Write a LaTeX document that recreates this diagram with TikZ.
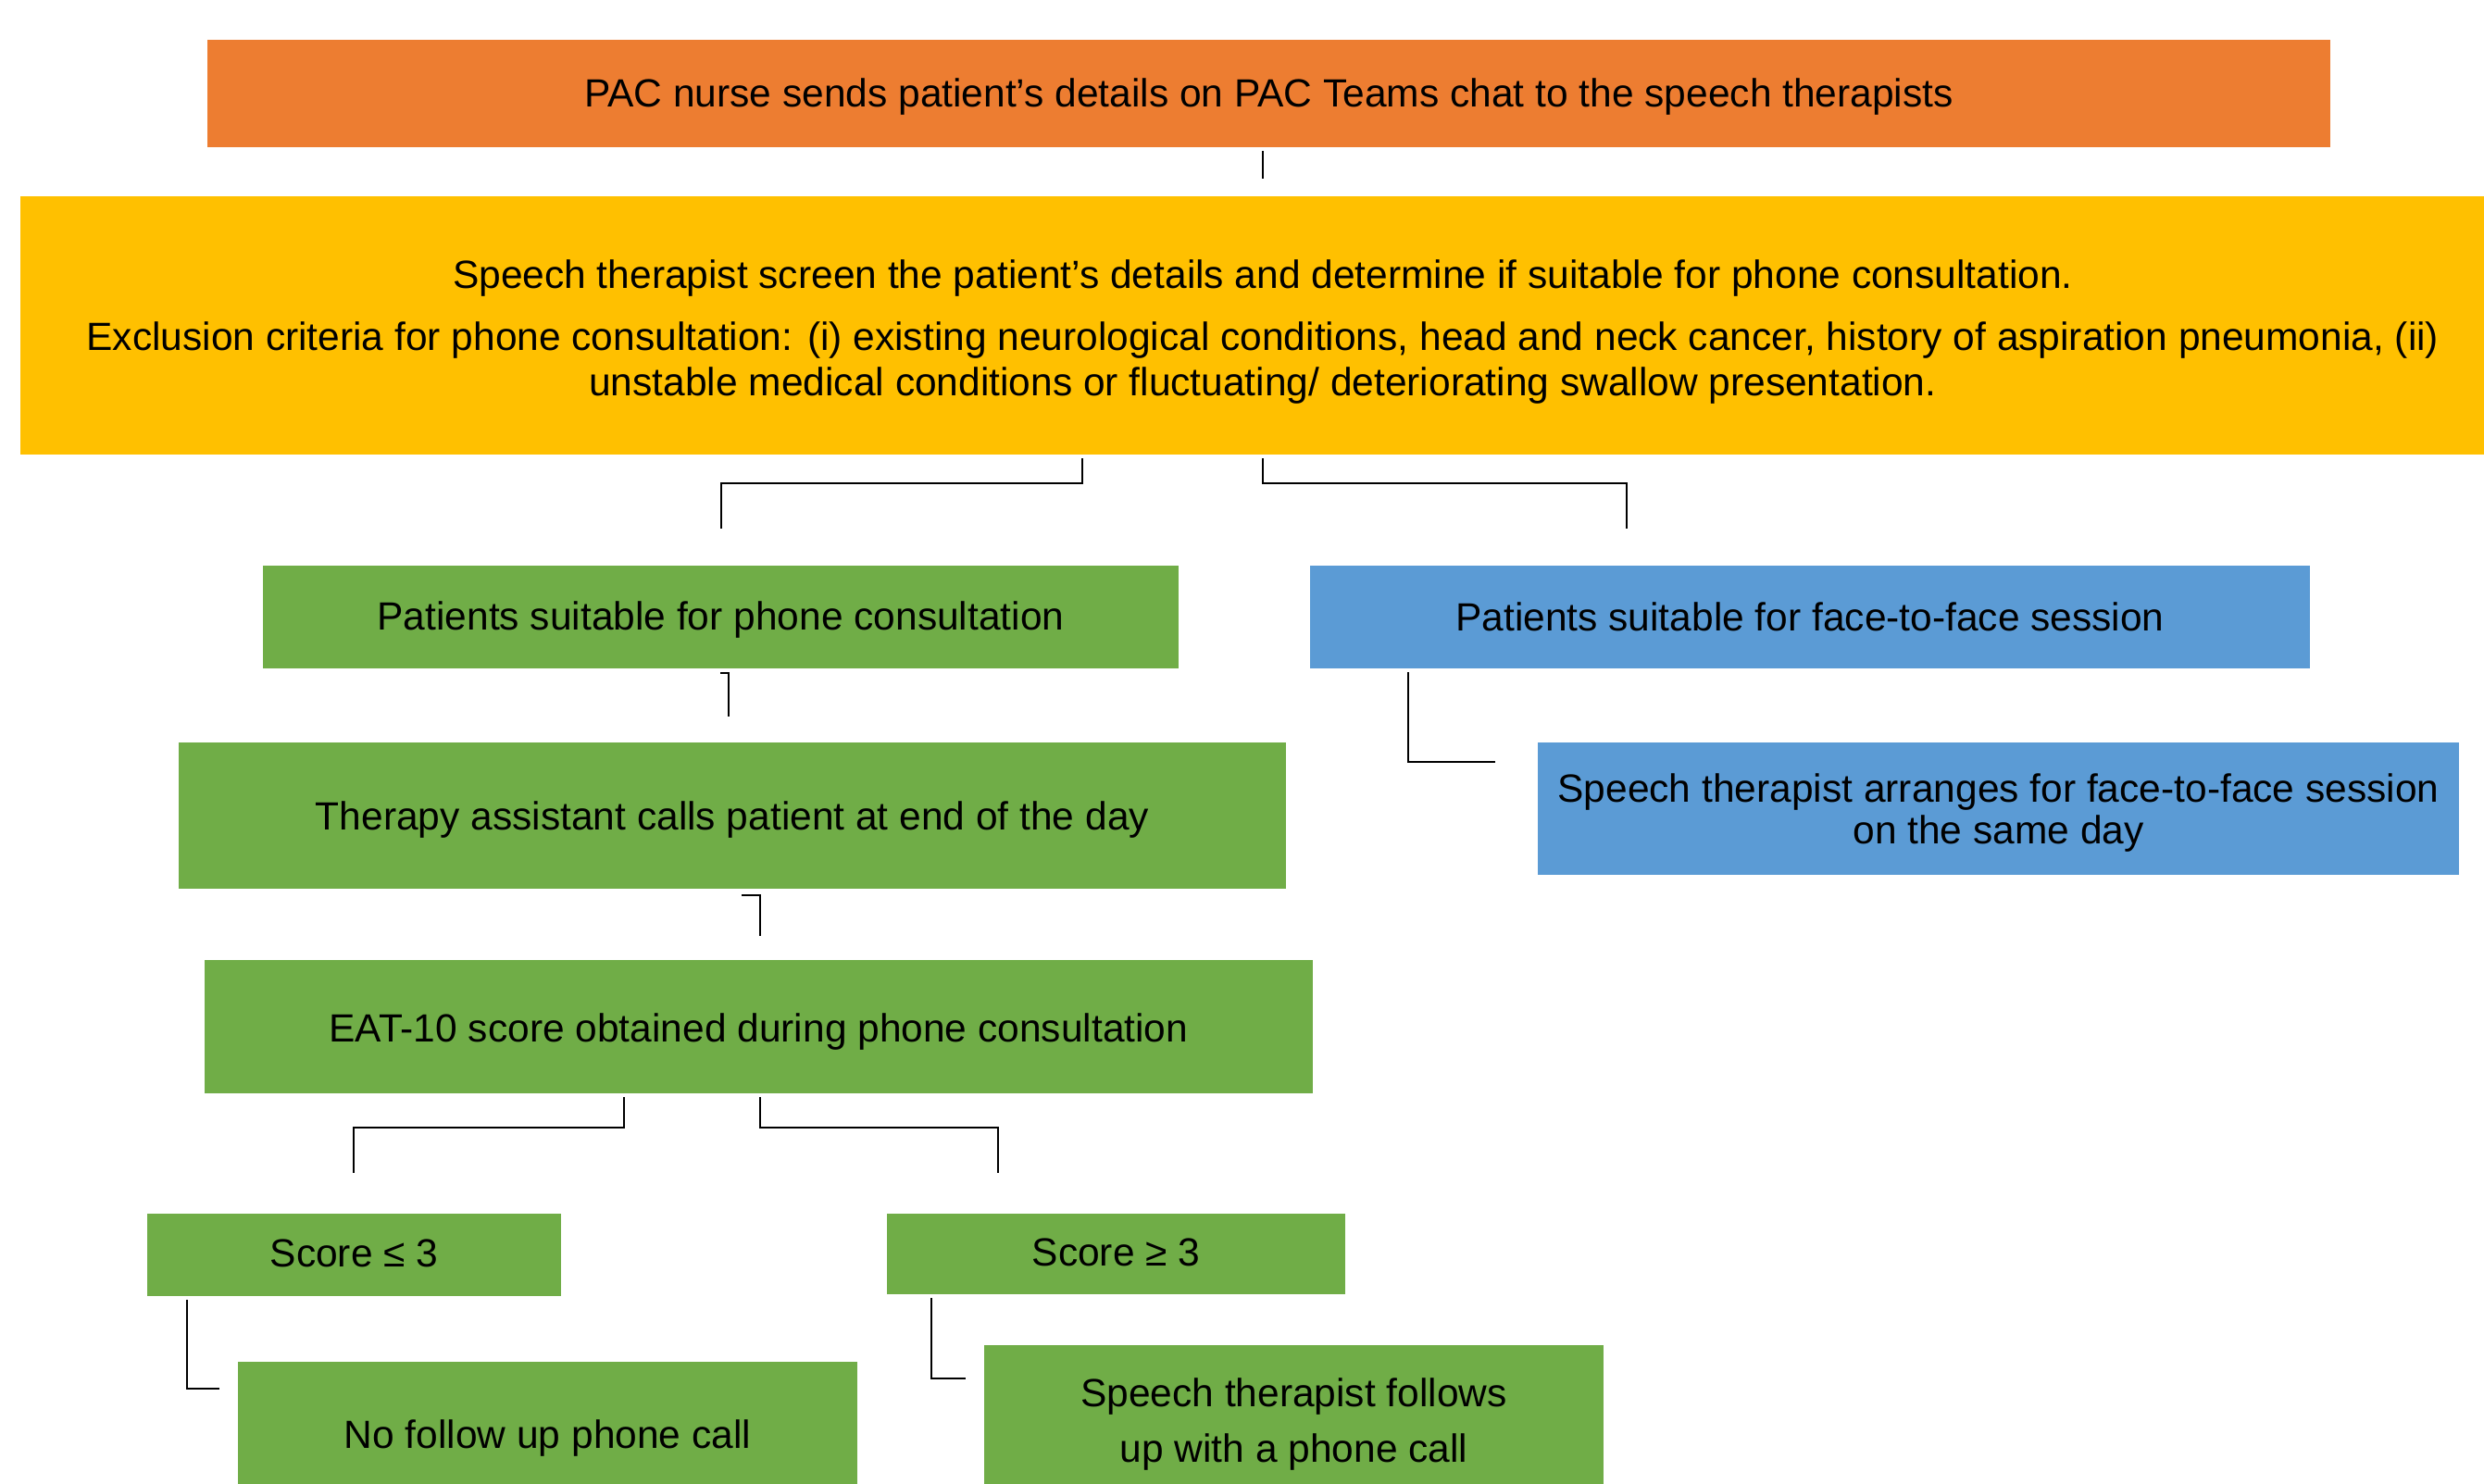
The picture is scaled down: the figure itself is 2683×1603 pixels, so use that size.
\documentclass[tikz,border=0pt]{standalone}
\usepackage{fontspec}
\usetikzlibrary{calc}
\setmainfont{Liberation Sans}
\definecolor{cOrange}{HTML}{ED7D31}
\definecolor{cYellow}{HTML}{FFC000}
\definecolor{cGreen}{HTML}{70AD47}
\definecolor{cBlue}{HTML}{5B9BD5}
\tikzset{
  box/.style={rectangle, inner sep=0pt, anchor=center},
  lbl/.style={inner sep=0pt, align=center, anchor=center,
    font=\fontsize{42.5}{49}\selectfont},
  conn/.style={draw=black, line width=2.5pt, line cap=rect},
}
\begin{document}
\begin{tikzpicture}[x=1pt,y=-1pt]
\useasboundingbox (0,0) rectangle (2683,1603);
\clip (0,0) rectangle (2683,1603);
\fill[white] (0,0) rectangle (2683,1603);

% boxes
\node[box, fill=cOrange, minimum width=2293pt, minimum height=116pt] (nurse) at (1370.5,101) {};
\node[box, fill=cYellow, minimum width=2684pt, minimum height=279pt] (screen) at (1364,351.5) {};
\node[box, fill=cGreen, minimum width=989pt, minimum height=111pt] (phone) at (778.5,666.5) {};
\node[box, fill=cBlue, minimum width=1080pt, minimum height=111pt] (face) at (1955,666.5) {};
\node[box, fill=cGreen, minimum width=1196pt, minimum height=158pt] (assist) at (791,881) {};
\node[box, fill=cBlue, minimum width=995pt, minimum height=143pt] (arrange) at (2158.5,873.5) {};
\node[box, fill=cGreen, minimum width=1197pt, minimum height=144pt] (eat) at (819.5,1109) {};
\node[box, fill=cGreen, minimum width=447pt, minimum height=89pt] (low) at (382.5,1355.5) {};
\node[box, fill=cGreen, minimum width=495pt, minimum height=87pt] (high) at (1205.5,1354.5) {};
\node[box, fill=cGreen, minimum width=669pt, minimum height=154pt] (nofollow) at (591.5,1548) {};
\node[box, fill=cGreen, minimum width=669pt, minimum height=166pt] (follow) at (1397.5,1536) {};

% texts
\node[lbl] (nurse-t) at ($(nurse.center)+(0,3.5)$)
  {PAC nurse sends patient’s details on PAC Teams chat to the speech therapists};
\node[lbl] (screen-t) at ($(screen.center)+(0,7)$)
  {Speech therapist screen the patient’s details and determine if suitable for phone consultation.\\[18pt]
   Exclusion criteria for phone consultation: (i) existing neurological conditions, head and neck cancer, history of aspiration pneumonia, (ii)\\
   unstable medical conditions or fluctuating/ deteriorating swallow presentation.};
\node[lbl] (phone-t) at ($(phone.center)+(0,3.5)$) {Patients suitable for phone consultation};
\node[lbl] (face-t) at ($(face.center)+(0,0)$) {Patients suitable for face-to-face session};
\node[lbl] (assist-t) at ($(assist.center)+(0,5)$) {Therapy assistant calls patient at end of the day};
\node[lbl, font=\fontsize{42.5}{45}\selectfont] (arrange-t) at ($(arrange.center)+(0,5)$)
  {Speech therapist arranges for face-to-face session\\on the same day};
\node[lbl] (eat-t) at ($(eat.center)+(0,5)$) {EAT-10 score obtained during phone consultation};
\node[lbl] (low-t) at ($(low.center)+(0,-1.5)$) {Score ≤ 3};
\node[lbl] (high-t) at ($(high.center)+(0,-1.5)$) {Score ≥ 3};
\node[lbl] (nofollow-t) at ($(nofollow.center)+(0,5)$) {No follow up phone call};
\node[lbl, font=\fontsize{42.5}{60}\selectfont] (follow-t) at ($(follow.center)+(0,2.5)$)
  {Speech therapist follows\\up with a phone call};

% connector end points
\coordinate (a1) at (1364,164);  \coordinate (a2) at (1364,192);
\coordinate (b1) at (1169,496);  \coordinate (b2) at (779,570);
\coordinate (c1) at (1364,496);  \coordinate (c2) at (1757,570);
\coordinate (d1) at (779,727);   \coordinate (d2) at (787,773);
\coordinate (e1) at (802,967);   \coordinate (e2) at (821,1010);
\coordinate (f1) at (1521,727);  \coordinate (f2) at (1614,823);
\coordinate (g1) at (674,1186);  \coordinate (g2) at (382,1266);
\coordinate (h1) at (821,1186);  \coordinate (h2) at (1078,1266);
\coordinate (i1) at (202,1405);  \coordinate (i2) at (236,1500);
\coordinate (j1) at (1006,1403); \coordinate (j2) at (1042,1489);

\draw[conn] (a1) -- (a2);
\draw[conn] (b1) -- (b1 |- 0,522) -- (b2 |- 0,522) -- (b2);
\draw[conn] (c1) -- (c1 |- 0,522) -- (c2 |- 0,522) -- (c2);
\draw[conn] (d1) -- (d2 |- d1) -- (d2);
\draw[conn] (e1) -- (e2 |- e1) -- (e2);
\draw[conn] (f1) -- (f1 |- f2) -- (f2);
\draw[conn] (g1) -- (g1 |- 0,1218) -- (g2 |- 0,1218) -- (g2);
\draw[conn] (h1) -- (h1 |- 0,1218) -- (h2 |- 0,1218) -- (h2);
\draw[conn] (i1) -- (i1 |- i2) -- (i2);
\draw[conn] (j1) -- (j1 |- j2) -- (j2);
\end{tikzpicture}
\end{document}
